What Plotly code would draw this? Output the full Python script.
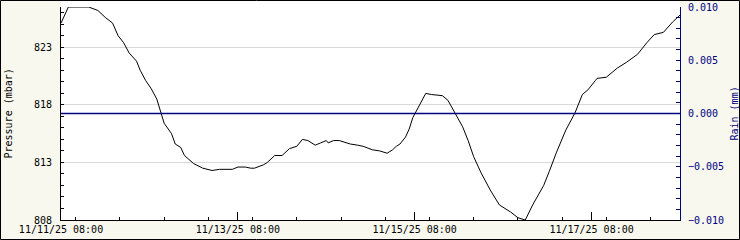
import plotly.graph_objects as go

times = [
    "2025-11-11 08:00", "2025-11-11 10:00", "2025-11-11 11:00", "2025-11-11 15:30",
    "2025-11-11 18:00", "2025-11-11 20:00", "2025-11-11 22:00", "2025-11-11 23:30",
    "2025-11-12 01:00", "2025-11-12 02:30", "2025-11-12 04:30", "2025-11-12 05:30",
    "2025-11-12 07:00", "2025-11-12 08:30", "2025-11-12 10:00", "2025-11-12 11:00",
    "2025-11-12 12:00", "2025-11-12 14:00", "2025-11-12 15:00", "2025-11-12 16:30",
    "2025-11-12 17:30", "2025-11-12 20:00", "2025-11-12 22:30", "2025-11-13 01:00",
    "2025-11-13 03:00", "2025-11-13 06:30", "2025-11-13 08:00", "2025-11-13 10:00",
    "2025-11-13 11:30", "2025-11-13 12:30", "2025-11-13 15:00", "2025-11-13 16:00",
    "2025-11-13 18:00", "2025-11-13 20:00", "2025-11-13 22:00", "2025-11-14 00:00",
    "2025-11-14 01:30", "2025-11-14 03:00", "2025-11-14 05:00", "2025-11-14 06:30",
    "2025-11-14 08:00", "2025-11-14 08:30", "2025-11-14 10:00", "2025-11-14 11:30",
    "2025-11-14 14:30", "2025-11-14 16:30", "2025-11-14 18:00", "2025-11-14 20:30",
    "2025-11-14 22:30", "2025-11-15 00:30", "2025-11-15 02:00", "2025-11-15 03:00",
    "2025-11-15 04:00", "2025-11-15 05:30", "2025-11-15 06:30", "2025-11-15 07:30",
    "2025-11-15 09:00", "2025-11-15 11:00", "2025-11-15 12:30", "2025-11-15 15:30",
    "2025-11-15 17:00", "2025-11-15 19:00", "2025-11-15 21:00", "2025-11-15 22:30",
    "2025-11-16 00:00", "2025-11-16 02:00", "2025-11-16 04:30", "2025-11-16 07:00",
    "2025-11-16 10:00", "2025-11-16 12:00", "2025-11-16 13:30", "2025-11-16 14:00",
    "2025-11-16 16:00", "2025-11-16 19:00", "2025-11-16 20:30", "2025-11-16 22:30",
    "2025-11-17 01:00", "2025-11-17 03:30", "2025-11-17 05:30", "2025-11-17 07:00",
    "2025-11-17 09:00", "2025-11-17 09:30", "2025-11-17 12:00", "2025-11-17 15:00",
    "2025-11-17 17:30", "2025-11-17 20:30", "2025-11-17 23:00", "2025-11-18 01:00",
    "2025-11-18 03:30", "2025-11-18 06:00", "2025-11-18 08:00",
]

pressure_mbar = [
    825.1, 826.5, 826.5, 826.5,
    826.2, 825.6, 825.1, 824.0,
    823.4, 822.5, 821.8, 821.0,
    820.1, 819.4, 818.5, 817.5,
    816.4, 815.5, 814.6, 814.3,
    813.6, 812.9, 812.5, 812.3,
    812.4, 812.4, 812.6, 812.6,
    812.5, 812.5, 812.8, 813.0,
    813.6, 813.6, 814.2, 814.4,
    815.0, 814.9, 814.5, 814.7,
    814.9, 814.7, 814.9, 814.9,
    814.6, 814.5, 814.4, 814.1,
    814.0, 813.8, 814.1, 814.4,
    814.6, 815.2, 815.9, 816.9,
    817.8, 819.0, 818.9, 818.8,
    818.4, 817.3, 816.1, 814.9,
    813.5, 812.1, 810.6, 809.3,
    808.7, 808.2, 808.0, 808.0,
    809.3, 811.0, 812.2, 813.9,
    815.8, 817.3, 818.9, 819.3,
    820.1, 820.3, 820.4, 821.2,
    821.7, 822.4, 823.4, 824.1,
    824.3, 825.2, 825.8,
]

rain_times = ["2025-11-11 08:00", "2025-11-18 08:00"]
rain_mm = [0.0, 0.0]

x_range = ["2025-11-11 08:00", "2025-11-18 08:00"]
pressure_range = [808, 826.5]
rain_range = [-0.01, 0.01]

W, H = 740, 240
L, R, T, B = 61, 60, 7, 20
PW, PH = W - L - R, H - T - B

BG = "#f8f8ef"
NAVY = "#000080"
FONT = "DejaVu Sans Mono"

fig = go.Figure()
fig.add_trace(go.Scatter(x=rain_times, y=rain_mm, mode="lines", yaxis="y2",
                         line=dict(color=NAVY, width=1.3), showlegend=False,
                         hoverinfo="skip"))
fig.add_trace(go.Scatter(x=times, y=pressure_mbar, mode="lines",
                         line=dict(color="black", width=1), showlegend=False))

fig.update_layout(
    width=W, height=H,
    margin=dict(l=L, r=R, t=T, b=B, pad=0, autoexpand=False),
    paper_bgcolor=BG, plot_bgcolor="white",
    font=dict(family=FONT, size=10, color="black"),
    xaxis=dict(
        range=x_range, type="date", automargin=False,
        tick0="2025-11-11 08:00", dtick=2 * 86400000,
        tickformat="%m/%d/%y %H:%M",
        ticks="inside", ticklen=8, tickcolor="black", tickwidth=1,
        showline=True, linecolor="black", linewidth=1,
        showgrid=False, zeroline=False,
        ticklabelstandoff=0,
        minor=dict(dtick=43200000, ticks="inside", ticklen=3, tickcolor="black", showgrid=False),
        tickfont=dict(family=FONT, size=10, color="black"),
    ),
    yaxis=dict(
        range=pressure_range, tick0=808, dtick=5, automargin=False,
        ticks="inside", ticklen=3, tickcolor="black",
        showline=True, linecolor="black", linewidth=1,
        showgrid=True, gridcolor="#d9d9d9", gridwidth=1, zeroline=False,
        minor=dict(dtick=1, ticks="inside", ticklen=3, tickcolor="black", showgrid=False),
        ticklabelstandoff=6,
        tickfont=dict(family=FONT, size=10, color="black"),
    ),
    yaxis2=dict(
        range=rain_range, overlaying="y", side="right", automargin=False,
        tick0=-0.01, dtick=0.005, tickformat=".3f",
        ticks="inside", ticklen=4, tickcolor=NAVY,
        showline=True, linecolor=NAVY, linewidth=1,
        showgrid=False, zeroline=False,
        minor=dict(dtick=0.001, ticks="inside", ticklen=4, tickcolor=NAVY, showgrid=False),
        ticklabelstandoff=5,
        tickfont=dict(family=FONT, size=10, color=NAVY),
    ),
    shapes=[
        dict(type="rect", xref="paper", yref="paper", layer="below",
             x0=0, x1=1, y0=0, y1=1 + (T - 1) / PH,
             fillcolor="white", line=dict(width=0)),
        dict(type="rect", xref="paper", yref="paper", layer="above",
             x0=(-L + 0.5) / PW, x1=1 + (R - 0.5) / PW,
             y0=(-B + 0.5) / PH, y1=1 + (T - 0.5) / PH,
             fillcolor="rgba(0,0,0,0)", line=dict(color="black", width=1)),
    ],
    annotations=[
        dict(text="Pressure (mbar)", xref="paper", yref="paper",
             x=(8 - L) / PW, y=0.5, xanchor="center", yanchor="middle",
             textangle=-90, showarrow=False,
             font=dict(family=FONT, size=10, color="black")),
        dict(text="Rain (mm)", xref="paper", yref="paper",
             x=1 + (734 - (W - R)) / PW, y=0.5, xanchor="center", yanchor="middle",
             textangle=-90, showarrow=False,
             font=dict(family=FONT, size=10, color=NAVY)),
    ],
)

fig.write_html("out.html")
